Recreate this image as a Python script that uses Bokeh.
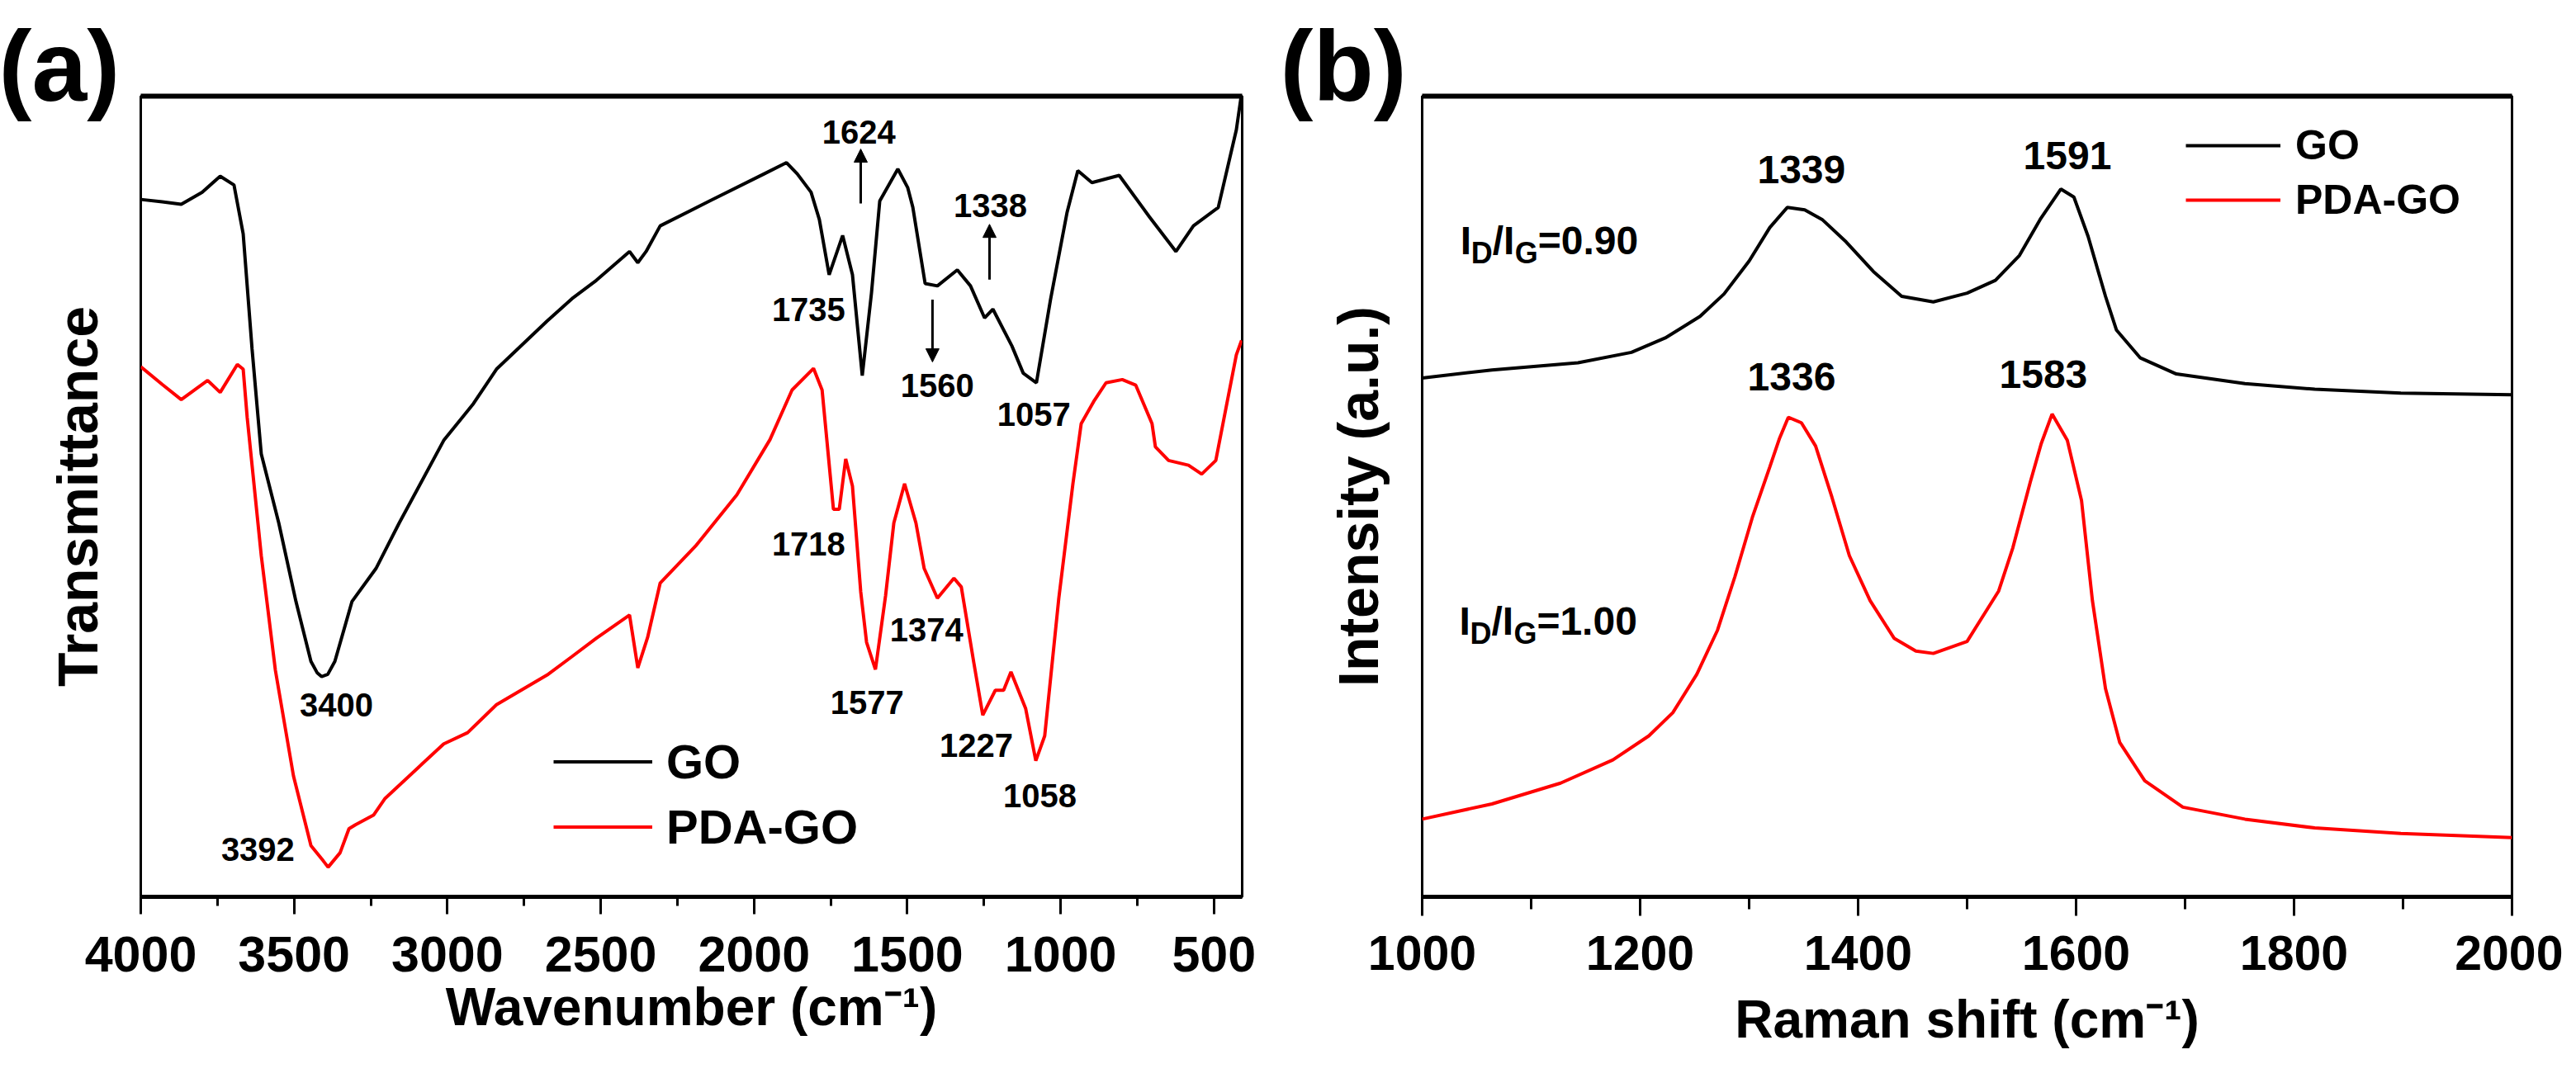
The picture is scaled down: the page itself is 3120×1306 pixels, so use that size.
from bokeh.plotting import figure
from bokeh.models import (Range1d, FixedTicker, Label, Legend, LegendItem,
                          Arrow, NormalHead, LinearAxis, Title)
from bokeh.layouts import row
from bokeh.embed import file_html
from bokeh.resources import INLINE

# ---------------- data: (a) FTIR ----------------
ftir_go_wn = [4000, 3930, 3868, 3800, 3741, 3696, 3666, 3637, 3607, 3550, 3494, 3445, 3425,
              3410, 3390, 3367, 3311, 3233, 3157, 3012, 2915, 2840, 2675, 2594, 2514, 2406,
              2379, 2352, 2306, 2145, 1967, 1894, 1859, 1814, 1787, 1755, 1711, 1679, 1647,
              1617, 1590, 1531, 1499, 1482, 1442, 1402, 1337, 1294, 1248, 1221, 1159, 1122,
              1079, 1033, 979, 944, 898, 809, 710, 624, 567, 486, 427, 412]
ftir_go_t = [87.1, 86.8, 86.5, 88.0, 90.0, 88.9, 82.8, 68.4, 55.3, 46.7, 36.9, 29.4, 28.0,
             27.5, 27.8, 29.4, 36.9, 41.0, 46.7, 57.0, 61.6, 65.9, 71.9, 74.7, 77.0, 80.6,
             79.2, 80.6, 83.8, 86.9, 90.3, 91.7, 90.3, 88.0, 84.6, 77.7, 82.6, 77.7, 65.1,
             75.4, 86.9, 90.9, 88.6, 86.1, 76.6, 76.3, 78.3, 76.3, 72.3, 73.4, 68.8, 65.4,
             64.2, 74.6, 85.5, 90.7, 89.2, 90.1, 84.9, 80.6, 83.8, 86.1, 95.8, 99.8]

ftir_pda_wn = [4000, 3930, 3868, 3782, 3741, 3685, 3666, 3653, 3607, 3561, 3502, 3445, 3405,
               3389, 3350, 3321, 3300, 3241, 3203, 3012, 2934, 2840, 2675, 2594, 2514, 2406,
               2379, 2347, 2306, 2191, 2056, 1948, 1876, 1806, 1778, 1741, 1722, 1701, 1679,
               1652, 1633, 1604, 1571, 1544, 1509, 1472, 1445, 1402, 1348, 1324, 1283, 1254,
               1213, 1186, 1162, 1114, 1081, 1052, 1006, 960, 933, 890, 852, 799, 755, 702,
               691, 648, 583, 540, 494, 459, 427, 410]
ftir_pda_t = [66.2, 64.0, 62.1, 64.5, 63.0, 66.5, 65.9, 59.9, 42.6, 28.3, 15.1, 6.4, 4.5,
              3.7, 5.5, 8.5, 9.0, 10.2, 12.3, 19.1, 20.5, 24.0, 27.7, 30.0, 32.3, 35.2,
              28.6, 32.4, 39.2, 43.8, 50.2, 57.1, 63.3, 66.0, 63.3, 48.4, 48.4, 54.7, 51.3,
              38.1, 31.8, 28.4, 37.6, 46.7, 51.6, 46.7, 41.0, 37.3, 39.8, 38.7, 29.2, 22.7,
              25.8, 25.8, 28.1, 23.5, 17.0, 20.1, 37.3, 51.6, 59.1, 62.0, 64.2, 64.6, 63.9, 59.1,
              56.2, 54.5, 53.9, 52.8, 54.5, 61.4, 67.7, 69.5]

ftir_ticks = [4000, 3500, 3000, 2500, 2000, 1500, 1000, 500]
ftir_minor = [3750, 3250, 2750, 2250, 1750, 1250, 750]

ftir_labels = ["1624", "1338", "1735", "1560", "1057", "3400", "3392",
               "1718", "1374", "1577", "1227", "1058"]
ftir_label_x = [1658, 1229, 1822, 1402, 1087, 3362, 3618, 1822, 1437, 1631, 1275, 1068]
ftir_label_y = [95.5, 86.3, 73.4, 63.9, 60.3, 24.0, 5.9, 44.1, 33.3, 24.3, 18.9, 12.6]

# ---------------- data: (b) Raman ----------------
raman_go_x = [1000, 1064, 1143, 1192, 1223, 1255, 1277, 1300, 1319, 1335, 1351, 1367, 1389,
              1414, 1440, 1469, 1500, 1526, 1548, 1567, 1586, 1598, 1611, 1627, 1637, 1659,
              1692, 1755, 1819, 1898, 2000]
raman_go_y = [64.8, 65.8, 66.7, 68.0, 69.8, 72.5, 75.3, 79.4, 83.6, 86.1, 85.8, 84.6, 81.8,
              78.1, 75.0, 74.3, 75.4, 77.0, 80.1, 84.6, 88.4, 87.4, 82.5, 75.0, 70.8, 67.3,
              65.3, 64.1, 63.4, 62.9, 62.7]

raman_pda_x = [1000, 1064, 1127, 1175, 1208, 1230, 1252, 1271, 1287, 1303, 1319, 1328, 1336,
               1348, 1361, 1376, 1392, 1411, 1433, 1453, 1469, 1500, 1529, 1542, 1558, 1568,
               1578, 1592, 1605, 1615, 1627, 1640, 1663, 1698, 1755, 1819, 1898, 2000]
raman_pda_y = [9.7, 11.6, 14.2, 17.1, 20.1, 23.0, 27.8, 33.3, 40.0, 47.4, 53.7, 57.3, 59.9,
               59.2, 56.3, 49.9, 42.6, 37.0, 32.3, 30.7, 30.4, 31.9, 38.2, 43.6, 51.8, 56.6,
               60.3, 57.0, 49.5, 37.0, 26.0, 19.3, 14.5, 11.2, 9.7, 8.6, 7.9, 7.4]

raman_ticks = [1000, 1200, 1400, 1600, 1800, 2000]
raman_minor = [1100, 1300, 1500, 1700, 1900]

raman_labels = ["1339", "1591", "1336", "1583"]
raman_label_x = [1348, 1592, 1339, 1570]
raman_label_y = [90.8, 92.6, 64.9, 65.3]

FONT = "Liberation Sans"
BLACK = "#000000"
RED = "#ff0000"


def make_panel(title, x_range, xlabel, ylabel, ticks, minor, tick_font, borders,
               tick_out, minor_out, label_standoff, xtitle_standoff, xtitle_offset,
               ylab_standoff):
    left, right, top, bottom = borders
    p = figure(width=1552, height=1290, x_range=x_range, y_range=Range1d(0, 100),
               output_backend="svg", toolbar_location=None, title=title,
               min_border_left=left, min_border_right=right,
               min_border_top=top, min_border_bottom=bottom,
               y_axis_label=ylabel)
    p.xgrid.grid_line_color = None
    p.ygrid.grid_line_color = None
    p.outline_line_color = BLACK
    p.outline_line_width = 3
    p.background_fill_color = "white"
    p.border_fill_color = "white"

    t = p.title
    t.text_font = FONT
    t.text_font_style = "bold"
    t.text_font_size = "120px"
    t.text_color = BLACK
    t.align = "left"
    t.vertical_align = "bottom"
    t.offset = -172
    t.standoff = -60

    xa = p.below[0]
    xa.ticker = FixedTicker(ticks=ticks, minor_ticks=minor)
    xa.axis_line_width = 5
    xa.major_tick_line_width = 3
    xa.minor_tick_line_width = 3
    xa.major_tick_in = 0
    xa.minor_tick_in = 0
    xa.major_tick_out = tick_out
    xa.minor_tick_out = minor_out
    xa.major_label_standoff = label_standoff
    xa.major_label_text_font = FONT
    xa.major_label_text_font_style = "bold"
    xa.major_label_text_font_size = tick_font
    xa.major_label_text_color = BLACK

    # x-axis title placed below the tick labels
    xt = Title(text=xlabel, align="center", vertical_align="bottom",
               standoff=xtitle_standoff, offset=xtitle_offset,
               text_font=FONT, text_font_style="bold", text_font_size="64px",
               text_color=BLACK)
    p.add_layout(xt, "below")

    ya = p.left[0]
    ya.ticker = FixedTicker(ticks=[])
    ya.axis_line_color = None
    ya.major_tick_line_color = None
    ya.minor_tick_line_color = None
    ya.major_tick_out = 0
    ya.minor_tick_out = 0
    ya.major_label_standoff = 0
    ya.axis_label_standoff = ylab_standoff
    ya.axis_label_text_font = FONT
    ya.axis_label_text_font_style = "bold"
    ya.axis_label_text_font_size = "68px"
    ya.axis_label_text_color = BLACK

    # thick top edge of the frame (an unlabelled axis, no ticks)
    top_axis = LinearAxis(ticker=FixedTicker(ticks=[]), axis_line_width=6,
                          axis_line_color=BLACK, major_tick_in=0, major_tick_out=0,
                          minor_tick_in=0, minor_tick_out=0,
                          major_tick_line_color=None, minor_tick_line_color=None,
                          major_label_standoff=0)
    p.add_layout(top_axis, "above")
    return p


# ---------------- panel (a) ----------------
pa = make_panel("(a)", Range1d(4000, 408), "Wavenumber (cm\u207b\u00b9)", "Transmittance",
                ftir_ticks, ftir_minor, "61px", (170, 48, 116, 150),
                21, 11, 27, 5, 25, 39)

ra1 = pa.line(ftir_go_wn, ftir_go_t, line_color=BLACK, line_width=4)
ra2 = pa.line(ftir_pda_wn, ftir_pda_t, line_color=RED, line_width=4)

for t, x, y in zip(ftir_labels, ftir_label_x, ftir_label_y):
    pa.add_layout(Label(x=x, y=y, text=t, text_font=FONT, text_font_style="bold",
                        text_font_size="40px", text_align="center", text_baseline="middle",
                        text_color=BLACK))

for (x0, y0, x1, y1) in [(1652, 86.6, 1652, 93.4), (1232, 77.1, 1232, 84.0), (1418, 74.6, 1418, 66.8)]:
    pa.add_layout(Arrow(end=NormalHead(size=16, fill_color=BLACK, line_color=BLACK),
                        x_start=x0, y_start=y0, x_end=x1, y_end=y1,
                        line_color=BLACK, line_width=3))

leg_a = Legend(items=[LegendItem(label="GO", renderers=[ra1]),
                      LegendItem(label="PDA-GO", renderers=[ra2])],
               location=(500, 45), glyph_width=120, glyph_height=79, label_height=79,
               label_standoff=17, padding=0, margin=0, spacing=0,
               border_line_color=None, background_fill_alpha=0,
               label_text_font=FONT, label_text_font_style="bold", label_text_font_size="58px",
               label_text_color=BLACK)
pa.add_layout(leg_a)

# ---------------- panel (b) ----------------
pb = make_panel("(b)", Range1d(1000, 2000), "Raman shift (cm\u207b\u00b9)", "Intensity (a.u.)",
                raman_ticks, raman_minor, "59px", (170, 62, 113, 150),
                23, 15, 24, 39, 0, 40)

rb1 = pb.line(raman_go_x, raman_go_y, line_color=BLACK, line_width=4)
rb2 = pb.line(raman_pda_x, raman_pda_y, line_color=RED, line_width=4)

for t, x, y in zip(raman_labels, raman_label_x, raman_label_y):
    pb.add_layout(Label(x=x, y=y, text=t, text_font=FONT, text_font_style="bold",
                        text_font_size="48px", text_align="center", text_baseline="middle",
                        text_color=BLACK))


def ratio_label(p, x, y, val):
    parts = [("I", 0, 0, "48px"), ("D", 13, -15, "36px"), ("/I", 39, 0, "48px"),
             ("G", 66, -15, "36px"), ("=" + val, 94, 0, "48px")]
    for txt, dx, dy, fs in parts:
        p.add_layout(Label(x=x, y=y, x_offset=dx, y_offset=dy, text=txt, text_font=FONT,
                           text_font_style="bold", text_font_size=fs, text_align="left",
                           text_baseline="alphabetic", text_color=BLACK))


ratio_label(pb, 1035, 82.0, "0.90")
ratio_label(pb, 1034, 34.4, "1.00")

leg_b = Legend(items=[LegendItem(label="GO", renderers=[rb1]),
                      LegendItem(label="PDA-GO", renderers=[rb2])],
               location=(925, 811), glyph_width=115, glyph_height=66, label_height=66,
               label_standoff=18, padding=0, margin=0, spacing=0,
               border_line_color=None, background_fill_alpha=0,
               label_text_font=FONT, label_text_font_style="bold", label_text_font_size="50px",
               label_text_color=BLACK)
pb.add_layout(leg_b)

layout = row(pa, pb)
open("out.html", "w").write(file_html(layout, INLINE))
